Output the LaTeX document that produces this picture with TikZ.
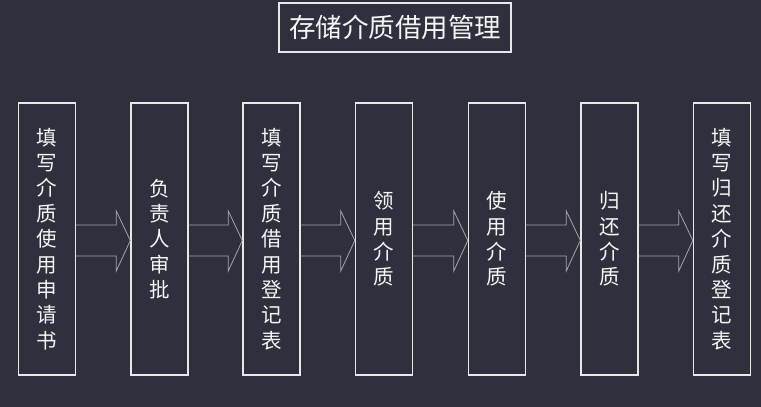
\documentclass[tikz,border=0pt]{standalone}
\usepackage{fontspec}
\newfontfamily\cjk{Noto Sans CJK SC}
\usetikzlibrary{calc}
\definecolor{bg}{RGB}{46,49,61}
\definecolor{boxline}{RGB}{232,232,232}
\definecolor{arrline}{RGB}{165,165,170}
\definecolor{txt}{RGB}{245,245,245}
\tikzset{
  stage/.style={draw=boxline, line width=1.4pt, minimum width=57pt, minimum height=272pt,
    inner sep=0pt, align=center, text=txt, font=\cjk\fontsize{20.5}{25.4}\selectfont},
  titlebox/.style={draw=boxline, line width=1.4pt, minimum width=232pt, minimum height=49pt,
    inner sep=0pt, text=txt, font=\cjk\fontsize{26.5}{30}\selectfont},
  flow/.style={draw=arrline, line width=0.8pt, line join=miter}
}
\newcommand{\flowarrow}[2]{%
  \draw[flow] ($(#1.east)+(0,-14)$) -- ($(#2.west)+(-14,-14)$) -- ($(#2.west)+(-14,-28)$)
    -- ($(#2.west)+(0,1.5)$) -- ($(#2.west)+(-14,32)$) -- ($(#2.west)+(-14,17)$)
    -- ($(#1.east)+(0,17)$);}
\begin{document}
\begin{tikzpicture}[x=1pt,y=-1pt]
\fill[bg] (0,0) rectangle (761,407);
\useasboundingbox (0,0) rectangle (761,407);
\node[titlebox] (title) at (395,27.5) {存储介质借用管理};
\node[stage] (b1) at (47,239) {填\\写\\介\\质\\使\\用\\申\\请\\书};
\node[stage] (b2) at (159.5,239) {负\\责\\人\\审\\批};
\node[stage] (b3) at (271.5,239) {填\\写\\介\\质\\借\\用\\登\\记\\表};
\node[stage] (b4) at (384,239) {领\\用\\介\\质};
\node[stage] (b5) at (497,239) {使\\用\\介\\质};
\node[stage] (b6) at (609.5,239) {归\\还\\介\\质};
\node[stage] (b7) at (722,239) {填\\写\\归\\还\\介\\质\\登\\记\\表};
\flowarrow{b1}{b2}
\flowarrow{b2}{b3}
\flowarrow{b3}{b4}
\flowarrow{b4}{b5}
\flowarrow{b5}{b6}
\flowarrow{b6}{b7}
\end{tikzpicture}
\end{document}
